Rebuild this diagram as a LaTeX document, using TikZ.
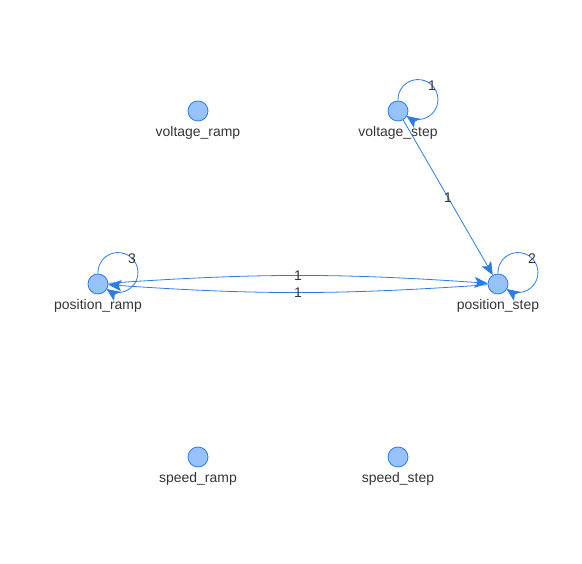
\documentclass[tikz,border=0pt]{standalone}
\usepackage{fontspec}
\setmainfont{Liberation Sans}
\usetikzlibrary{arrows.meta}
\definecolor{nodefill}{HTML}{97C2FC}
\definecolor{nodeline}{HTML}{2B7CE9}
\definecolor{textgray}{HTML}{343434}
\begin{document}
\begin{tikzpicture}[x=1bp, y=1bp,
    >={Stealth[length=13bp, width=11bp, inset=3bp]},
    vertex/.style={draw=nodeline, fill=nodefill, circle, minimum size=20bp, inner sep=0pt, line width=0.8bp},
    vtext/.style={text=textgray, font=\fontsize{14}{16}\selectfont, inner sep=1bp, yshift=-4bp},
    wlabel/.style={text=textgray, font=\fontsize{14}{16}\selectfont, inner sep=0.5bp},
    link/.style={draw=nodeline, line width=0.8bp, ->}]
    \useasboundingbox (0,0) rectangle (582,564);
    % Nodes
    \node (voltramp) [vertex, label={[vtext]below:voltage\_ramp}] at (198,453) {};
    \node (voltstep) [vertex, label={[vtext]below:voltage\_step}] at (398,453) {};
    \node (posramp) [vertex, label={[vtext]below:position\_ramp}] at (98,280) {};
    \node (posstep) [vertex, label={[vtext]below:position\_step}] at (498,280) {};
    \node (speedramp) [vertex, label={[vtext]below:speed\_ramp}] at (198,107) {};
    \node (speedstep) [vertex, label={[vtext]below:speed\_step}] at (398,107) {};

    % Loops
    \draw[link] (voltstep.90) arc[start angle=183, end angle=-125, radius=20];
    \draw[link] (posramp.90) arc[start angle=183, end angle=-125, radius=20];
    \draw[link] (posstep.90) arc[start angle=183, end angle=-125, radius=20];
    \node[wlabel] at ([shift={(34,25)}]voltstep) {1};
    \node[wlabel] at ([shift={(34,25)}]posramp) {3};
    \node[wlabel] at ([shift={(34,25)}]posstep) {2};

    % Arrows
    \draw[link] (voltstep) -- node[wlabel] {1} (posstep);
    \draw[link] (posramp) to[bend left=4] node[wlabel] {1} (posstep);
    \draw[link] (posstep) to[bend left=4] node[wlabel] {1} (posramp);
\end{tikzpicture}
\end{document}
